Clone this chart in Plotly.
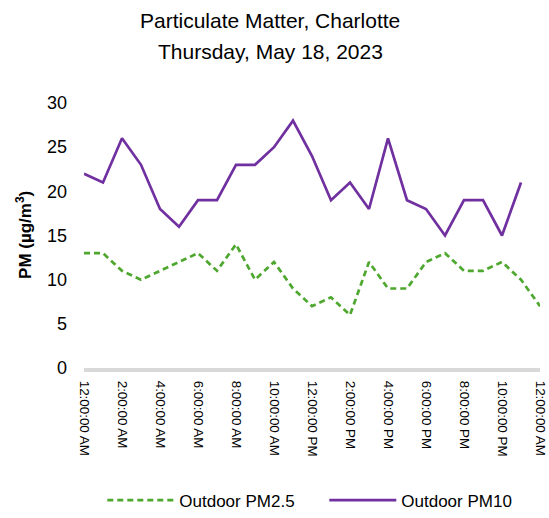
import plotly.graph_objects as go

hours = list(range(25))
pm25 = [13, 13, 11, 10, 11, 12, 13, 11, 14, 10, 12, 9, 7, 8, 6, 12, 9, 9, 12, 13, 11, 11, 12, 10, 7]
pm10 = [22, 21, 26, 23, 18, 16, 19, 19, 23, 23, 25, 28, 24, 19, 21, 18, 26, 19, 18, 15, 19, 19, 15, 21]
tick_hours = list(range(0, 25, 2))
tick_labels = ["12:00:00 AM", "2:00:00 AM", "4:00:00 AM", "6:00:00 AM", "8:00:00 AM",
               "10:00:00 AM", "12:00:00 PM", "2:00:00 PM", "4:00:00 PM", "6:00:00 PM",
               "8:00:00 PM", "10:00:00 PM", "12:00:00 AM"]
title_lines = ["Particulate Matter, Charlotte", "Thursday, May 18, 2023"]
y_title = "<b>PM (µg/m<sup>3</sup>)</b>"

fig = go.Figure()
fig.add_trace(go.Scatter(x=hours[:len(pm25)], y=pm25, mode="lines", name="Outdoor PM2.5",
                         line=dict(color="#4EA72E", width=2.7, dash="6px,4px"), cliponaxis=False))
fig.add_trace(go.Scatter(x=hours[:len(pm10)], y=pm10, mode="lines", name="Outdoor PM10",
                         line=dict(color="#7030A0", width=2.7), cliponaxis=False))

fig.update_layout(
    width=549, height=518,
    paper_bgcolor="white", plot_bgcolor="white",
    font=dict(family="Liberation Sans, Arial, sans-serif", color="black"),
    margin=dict(l=84, r=9, t=103, b=150, autoexpand=False),
    showlegend=True,
    legend=dict(orientation="h", x=0.527, xanchor="center", y=-0.5, yanchor="middle",
                font=dict(size=17), itemwidth=67, entrywidth=140, entrywidthmode="pixels"),
    xaxis=dict(range=[0, 24], tickvals=tick_hours, ticktext=tick_labels, tickangle=90,
               showgrid=False, zeroline=False, showline=True, linecolor="#d9d9d9",
               linewidth=4, ticks="", tickfont=dict(size=13.4), automargin=False,
               ticklabelstandoff=6),
    yaxis=dict(range=[0, 30], dtick=5, showgrid=False, zeroline=False, showline=False,
               ticks="", tickfont=dict(size=18), ticklabelstandoff=16, automargin=False),
    annotations=[
        dict(text=title_lines[0], x=0.408, y=1.313, xref="paper", yref="paper",
             xanchor="center", yanchor="middle", showarrow=False, font=dict(size=21)),
        dict(text=title_lines[1], x=0.408, y=1.1925, xref="paper", yref="paper",
             xanchor="center", yanchor="middle", showarrow=False, font=dict(size=21)),
        dict(text=y_title, x=-0.1316, y=0.502, xref="paper", yref="paper", textangle=-90,
             xanchor="center", yanchor="middle", showarrow=False, font=dict(size=17)),
    ],
)
fig.write_html("out.html", config={"displayModeBar": False},
               post_script="document.body.style.margin='0';document.body.style.overflow='hidden';")
